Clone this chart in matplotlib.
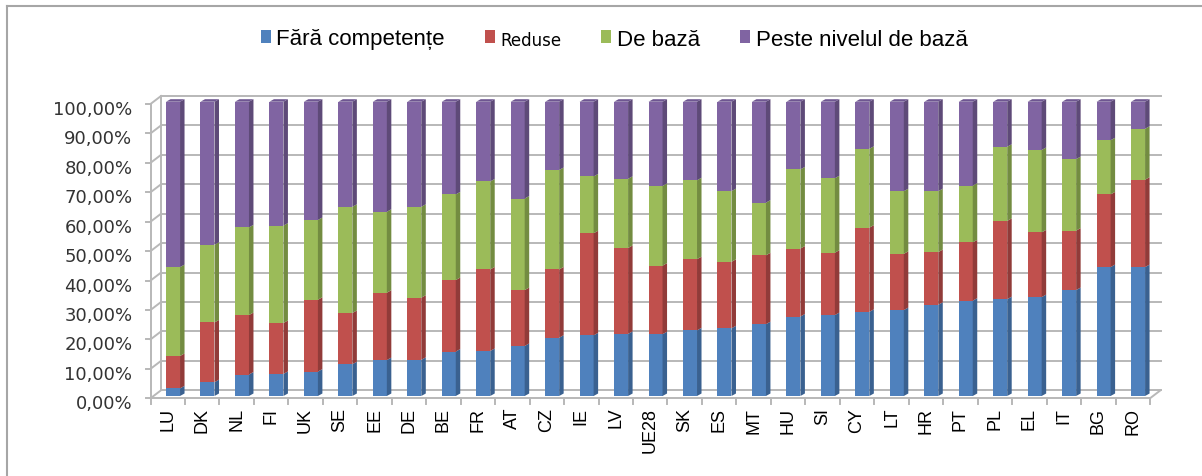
"""
Stacked 3D-look column chart: competente digitale pe tari (UE28)
"""
import matplotlib
matplotlib.use("Agg")
import matplotlib.pyplot as plt
from matplotlib.patches import Polygon
from matplotlib.lines import Line2D
from matplotlib.transforms import ScaledTranslation
import numpy as np

# ---- data (shares, %) ----
countries = ['LU', 'DK', 'NL', 'FI', 'UK', 'SE', 'EE', 'DE', 'BE', 'FR',
             'AT', 'CZ', 'IE', 'LV', 'UE28', 'SK', 'ES', 'MT', 'HU', 'SI',
             'CY', 'LT', 'HR', 'PT', 'PL', 'EL', 'IT', 'BG', 'RO']
fara = [2.6, 4.7, 7.3, 7.5, 8.3, 10.8, 12.2, 12.3, 15.1, 15.3,
        17.0, 19.8, 20.6, 21.1, 21.0, 22.3, 23.0, 24.4, 27.0, 27.5,
        28.6, 29.2, 31.0, 32.4, 32.9, 33.6, 36.0, 43.8, 43.8]
reduse = [11.0, 20.3, 20.2, 17.3, 24.4, 17.4, 22.9, 21.1, 24.3, 27.7,
          19.0, 23.2, 34.7, 29.2, 23.3, 24.2, 22.6, 23.4, 23.1, 21.2,
          28.6, 19.1, 17.9, 19.8, 26.6, 22.0, 20.2, 24.7, 29.7]
de_baza = [30.2, 26.4, 29.8, 33.1, 27.1, 36.1, 27.5, 30.9, 29.1, 29.9,
           31.1, 33.8, 19.3, 23.5, 27.1, 26.8, 24.0, 17.9, 26.9, 25.3,
           26.8, 21.3, 20.7, 19.3, 25.2, 28.0, 24.3, 18.4, 17.3]
peste = [56.2, 48.6, 42.7, 42.1, 40.2, 35.7, 37.4, 35.7, 31.5, 27.1,
         32.9, 23.2, 25.4, 26.2, 28.6, 26.7, 30.4, 34.3, 23.0, 26.0,
         16.0, 30.4, 30.4, 28.5, 15.3, 16.4, 19.5, 13.1, 9.2]

series_names = ['Fără competențe', 'Reduse', 'De bază', 'Peste nivelul de bază']
front_cols = ['#4F81BD', '#C0504D', '#9BBB59', '#8064A2']
side_cols = ['#3A6190', '#913B39', '#738C41', '#5E4A78']
top_col = '#6E5691'
grid_col = '#B8B8B8'

# ---- figure / axes geometry (px) ----
W, H = 1202, 477
AX_L, AX_R = 150.5, 1150.0
AX_B, AX_T = 399.3, 105.0
n = len(countries)

fig = plt.figure(figsize=(W / 100, H / 100), dpi=100)
ax = fig.add_axes([AX_L / W, (H - AX_B) / H, (AX_R - AX_L) / W, (AX_B - AX_T) / H])
ax.set_xlim(-0.5, n - 0.5)
ax.set_ylim(0, 100)
for s in ax.spines.values():
    s.set_visible(False)

XPX = (AX_R - AX_L) / n      # px per category
YPX = (AX_B - AX_T) / 100.0  # px per percent

def px(dx, dy):
    return dx / XPX, dy / YPX

wdx, wdy = px(10.5, 8.0)   # back wall depth
bdx, bdy = px(5.3, 2.3)    # bar front plane offset
sdx, sdy = px(4.5, 2.5)    # bar side depth
bw = 14.0 / XPX

# ---- walls / floor ----
gkw = dict(color=grid_col, lw=1.4, clip_on=False, zorder=1)
for v in range(0, 101, 10):
    ax.plot([-0.5, -0.5 + wdx], [v, v + wdy], **gkw)
    ax.plot([-0.5 + wdx, n - 0.5 + wdx], [v + wdy, v + wdy], **gkw)
    ax.plot([-0.5 - 5 / XPX, -0.5], [v, v], **gkw)
ax.plot([-0.5, -0.5], [0, 100], **gkw)
ax.plot([-0.5 + wdx, -0.5 + wdx], [wdy, 100 + wdy], **gkw)
ax.plot([-0.5, n - 0.5], [0, 0], **gkw)
ax.plot([n - 0.5, n - 0.5 + wdx], [0, wdy], **gkw)
for k in range(n + 1):
    ax.plot([k - 0.5, k - 0.5], [0, -6 / YPX], **gkw)

# ---- bars ----
x = np.arange(n)
xc = x + bdx
stack = np.array([fara, reduse, de_baza, peste])
bottoms = np.vstack([np.zeros(n), np.cumsum(stack, axis=0)[:-1]]) + bdy
bars = []
for j in range(4):
    b = ax.bar(xc, stack[j], bw, bottom=bottoms[j], color=front_cols[j],
               label=series_names[j], zorder=3, clip_on=False, linewidth=0)
    bars.append(b)
    for i in range(n):
        xr = xc[i] + bw / 2
        lo, hi = bottoms[j][i], bottoms[j][i] + stack[j][i]
        ax.add_patch(Polygon([(xr, lo), (xr + sdx, lo + sdy), (xr + sdx, hi + sdy), (xr, hi)],
                             closed=True, facecolor=side_cols[j], edgecolor='none',
                             zorder=3, clip_on=False))
for i in range(n):
    xl, xr = xc[i] - bw / 2, xc[i] + bw / 2
    top = bottoms[3][i] + stack[3][i]
    ax.add_patch(Polygon([(xl, top), (xl + sdx, top + sdy), (xr + sdx, top + sdy), (xr, top)],
                         closed=True, facecolor=top_col, edgecolor='none',
                         zorder=3, clip_on=False))

# ---- ticks ----
ax.set_xticks(x)
ax.set_xticklabels(countries, rotation=90, fontsize=13, family='Liberation Sans',
                   color='#000000')
ax.set_yticks(range(0, 101, 10))
ax.set_yticklabels([f"{v},00%" for v in range(0, 101, 10)], fontsize=13,
                   family='DejaVu Sans', color='#333333')
ax.tick_params(axis='both', length=0)
ax.tick_params(axis='y', pad=13)
ax.tick_params(axis='x', pad=6)
for lab in ax.get_yticklabels():
    lab.set_transform(lab.get_transform() + ScaledTranslation(0, -3 / 100, fig.dpi_scale_trans))

# ---- legend ----
leg = fig.legend(handles=bars, labels=series_names, loc='center', ncol=4,
                 bbox_to_anchor=(614 / W, 1 - 40 / H), frameon=False,
                 prop={'family': 'Liberation Sans', 'size': 16},
                 handlelength=0.45, handleheight=0.5, handletextpad=0.25,
                 columnspacing=1.8)
leg.get_texts()[1].set_fontproperties({'family': 'DejaVu Sans', 'size': 12})

# ---- outer frame ----
fig.add_artist(Line2D([7 / W, 1], [1 - 7 / H, 1 - 7 / H], color='#A6A6A6', lw=1.5))
fig.add_artist(Line2D([7 / W, 7 / W], [0, 1 - 7 / H], color='#A6A6A6', lw=1.5))

fig.savefig('out.png', dpi=100)
